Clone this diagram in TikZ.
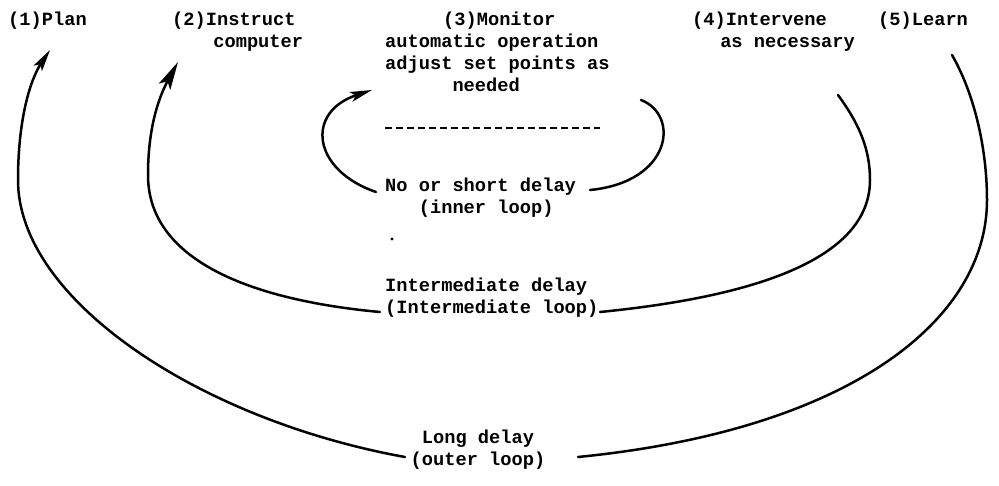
\documentclass[tikz,border=0pt]{standalone}
\usepackage{fontspec}
\setmonofont{Liberation Mono}
\usetikzlibrary{arrows.meta}

\begin{document}
\begin{tikzpicture}[x=1pt,y=-1pt,%
        txt/.style={anchor=north west, inner sep=0pt, align=left,%
                        font=\ttfamily\bfseries\fontsize{18.7}{22}\selectfont},
        lp/.style={line width=2.5pt, line cap=round},
        ar/.style={lp, -{Stealth[length=22pt,width=10pt,inset=5pt]}}]
\useasboundingbox (0,0) rectangle (999,485);
% the five steps
\node[txt] (plan) at (8,12) {(1)Plan};
\node[txt] (instr) at (172,12) {(2)Instruct\\\hspace*{2.2em}computer};
\node[txt] (monitor) at (385,12) {\hspace*{3.1em}(3)Monitor\\automatic operation\\%
                adjust set points as\\\hspace*{3.6em}needed};
\node[txt] (interv) at (692,12) {(4)Intervene\\\hspace*{1.5em}as necessary};
\node[txt] (learn) at (878,12) {(5)Learn};
% the delays
\node[txt] (short) at (385,178) {No or short delay\\\hspace*{1.8em}(inner loop)};
\node[txt] (interm) at (385,278) {Intermediate delay\\(Intermediate loop)};
\node[txt, anchor=north, align=center] (long) at (478,430) {Long delay\\(outer loop)};
\draw[line width=2.4pt, dash pattern=on 7pt off 4pt]
    ([shift={(0,116)}]monitor.north west) -- ([shift={(215,116)}]monitor.north west);
\fill (392,239) circle (1.6);
% inner loop
\draw[ar] ([shift={(-9,14)}]short.north west) .. controls (312,170) and (305,112) ..
    ([shift={(-13,78)}]monitor.north west);
\draw[lp] ([shift={(256,88)}]monitor.north west) .. controls (680,115) and (672,182) ..
    ([shift={(205,12)}]short.north west);
% intermediate loop
\draw[lp, -{Stealth[length=28pt,width=13pt,inset=6pt]}] ([shift={(-5,34)}]interm.north west)
    .. controls (250,300) and (148,260) .. (148,175)
    .. controls (148,125) and (160,95) .. ([shift={(6,50)}]instr.north west);
\draw[lp] ([shift={(146,83)}]interv.north west) .. controls (860,125) and (870,150) .. (870,180)
    .. controls (870,270) and (720,300) .. ([shift={(215,34)}]interm.north west);
% outer loop
\draw[ar] ([shift={(-73,27)}]long.north) .. controls (200,420) and (18,300) .. (18,180)
    .. controls (18,120) and (30,80) .. ([shift={(42,38)}]plan.north west);
\draw[lp] ([shift={(74,43)}]learn.north west) .. controls (975,95) and (987,150) .. (987,200)
    .. controls (987,320) and (850,430) .. ([shift={(100,27)}]long.north);
\end{tikzpicture}
\end{document}
